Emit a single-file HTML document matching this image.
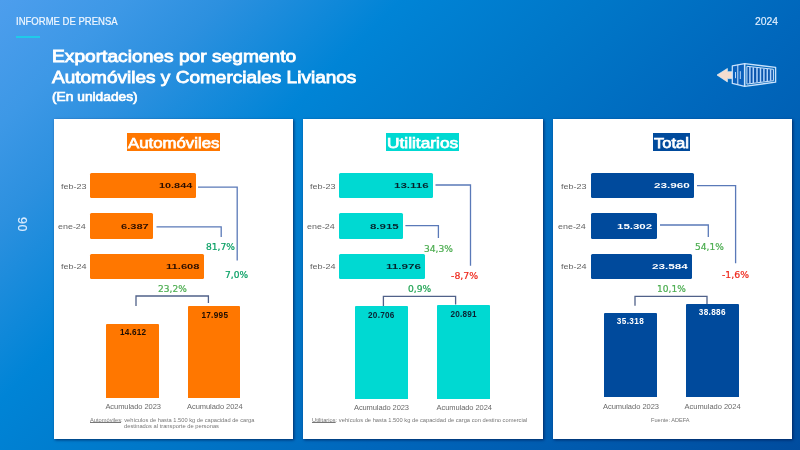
<!DOCTYPE html><html lang="es"><head><meta charset="utf-8"><title>Exportaciones por segmento</title><style>
html,body{margin:0;padding:0}
body{width:800px;height:450px;overflow:hidden;position:relative;font-family:"Liberation Sans",sans-serif;
background:linear-gradient(135deg,#4d9eed 0%,#3d98e6 10%,#2c90df 18%,#0084d6 32%,#0077c8 48%,#0067bc 65%,#005aae 82%,#004c9e 100%)}
.panel{position:absolute;top:118.5px;width:239.7px;height:320px;background:#fff;box-shadow:1.4px 1.4px 2.6px rgba(0,20,70,.72)}
.r{position:absolute}
.ov{position:absolute;left:0;top:0}
.t u{text-decoration-thickness:0.5px;text-underline-offset:0.4px}
.t{position:absolute;white-space:nowrap;line-height:1;margin:0;transform-origin:0 0}
.rule{position:absolute;left:16px;top:35.6px;width:24px;height:2px;background:#1fcbe9}
.pg{position:absolute;left:23.1px;top:224.1px;width:0;height:0}
.pg span{position:absolute;white-space:nowrap;line-height:1;font-size:12.6px;letter-spacing:0.4px;color:#dcedff;-webkit-text-stroke:0.2px #dcedff;transform:translate(-50%,-50%) rotate(-90deg);display:block}
</style></head><body>
<header>
<div class="t" style="left:16.0px;top:17px;font-size:10.1px;color:#f0f7ff;transform:scaleX(0.9435);-webkit-text-stroke:0.2px #f0f7ff;">INFORME DE PRENSA</div>
<div class="t" style="left:754.7px;top:17px;font-size:10.3px;color:#e2f0ff;transform:scaleX(1.0078);-webkit-text-stroke:0.15px #e2f0ff;">2024</div>
<div class="rule"></div>
<svg class="ov" width="800" height="450" viewBox="0 0 800 450" fill="none" stroke-linejoin="round">
<path d="M717 75 L727.4 68.5 V71.7 H732.2 V78.6 H727.4 V81.9 Z" fill="#f3dccf" stroke="#e3ecf6" stroke-width="0.7"/>
<path d="M732.3 65.9 L744.6 63.7 V86.3 L732.3 83.4 Z" fill="#0a60bc" stroke="#cae2fc" stroke-width="1.25"/>
<path d="M737.8 64.9 V84.7" stroke="#cfe5fc" stroke-width="1"/>
<path d="M735.5 72 V78.2 M740.3 71.2 V79" stroke="#b5d6f8" stroke-width="1"/>
<path d="M744.6 63.7 L775.6 67.4 V82.2 L744.6 86.3 Z" stroke="#cae2fc" stroke-width="1.35"/>
<path d="M746.9 66.3 L773.4 69.3 V80.7 L746.9 84.1 Z" fill="#0a54ad" stroke="#cfe5fc" stroke-width="1"/>
<path d="M749.9 66.9 V83.4 M753.3 67.3 V83.0 M757.0 67.7 V82.5 M760.5 68.1 V82.1 M763.9 68.5 V81.6 M767.3 68.9 V81.2 M770.6 69.3 V80.8" stroke="#b2d5fc" stroke-width="1.5"/>
</svg>
</header>
<aside class="pg"><span>06</span></aside>
<div class="title">
<div class="t" style="left:51.8px;top:49px;font-size:15.9px;color:#ffffff;transform:scaleX(1.2072);-webkit-text-stroke:0.8px #fff;">Exportaciones por segmento</div>
<div class="t" style="left:51.8px;top:70px;font-size:15.9px;color:#ffffff;transform:scaleX(1.1967);-webkit-text-stroke:0.8px #fff;">Automóviles y Comerciales Livianos</div>
<div class="t" style="left:51.8px;top:91px;font-size:12.4px;color:#ffffff;transform:scaleX(1.1107);-webkit-text-stroke:0.65px #fff;">(En unidades)</div>
</div>
<main>
<section>
<div class="panel" style="left:53.5px"></div>
<div class="r" style="left:126.8px;top:132.6px;width:93.4px;height:18.1px;background:#ff7700"></div>
<div class="r" style="left:90.1px;top:172.6px;width:106.0px;height:25.6px;background:#ff7700;border-radius:1.5px"></div>
<div class="r" style="left:90.1px;top:213.1px;width:63.0px;height:25.7px;background:#ff7700;border-radius:1.5px"></div>
<div class="r" style="left:90.1px;top:253.8px;width:113.9px;height:25.5px;background:#ff7700;border-radius:1.5px"></div>
<svg class="ov" width="800" height="450" viewBox="0 0 800 450" fill="none" stroke-width="1.3"><path d="M198 187.1 H237.2 V260.6" stroke="#5a79b8"/><path d="M156.5 226.8 H221.2 V237" stroke="#5a79b8"/><path d="M136 306 V296 H208.4 V303" stroke="#506189"/></svg>
<div class="r" style="left:106.4px;top:324px;width:53.0px;height:73.5px;background:#ff7700;border-radius:1px 1px 0 0"></div>
<div class="r" style="left:188px;top:306px;width:52.4px;height:91.5px;background:#ff7700;border-radius:1px 1px 0 0"></div>
<div class="t" style="left:128.0px;top:135px;font-size:15.2px;color:#ffffff;transform:scaleX(1.1047);-webkit-text-stroke:0.75px #fff;">Automóviles</div>
<div class="t" style="left:158.9px;top:182px;font-size:8.0px;color:#2a0e00;font-weight:700;transform:scaleX(1.3568);">10.844</div>
<div class="t" style="left:60.5px;top:183px;font-size:7.7px;color:#636363;transform:scaleX(1.1736);">feb-23</div>
<div class="t" style="left:120.8px;top:223px;font-size:8.0px;color:#2a0e00;font-weight:700;transform:scaleX(1.3828);">6.387</div>
<div class="t" style="left:58.3px;top:223px;font-size:7.7px;color:#636363;transform:scaleX(1.1614);">ene-24</div>
<div class="t" style="left:166.2px;top:263px;font-size:8.0px;color:#2a0e00;font-weight:700;transform:scaleX(1.3940);">11.608</div>
<div class="t" style="left:60.5px;top:263px;font-size:7.7px;color:#636363;transform:scaleX(1.1736);">feb-24</div>
<div class="t" style="left:206.0px;top:243px;font-size:9.1px;color:#0aa065;font-family:'DejaVu Sans', 'Liberation Sans', sans-serif;transform:scaleX(1.0038);-webkit-text-stroke:0.22px #0aa065;">81,7%</div>
<div class="t" style="left:225.0px;top:271px;font-size:9.1px;color:#0aa065;font-family:'DejaVu Sans', 'Liberation Sans', sans-serif;transform:scaleX(0.9953);-webkit-text-stroke:0.22px #0aa065;">7,0%</div>
<div class="t" style="left:157.6px;top:285px;font-size:9.1px;color:#4cad50;font-family:'DejaVu Sans', 'Liberation Sans', sans-serif;transform:scaleX(0.9969);-webkit-text-stroke:0.22px #4cad50;">23,2%</div>
<div class="t" style="left:120.0px;top:329px;font-size:8.2px;color:#1e0d02;font-weight:700;letter-spacing:0.191px;">14.612</div>
<div class="t" style="left:201.4px;top:312px;font-size:8.2px;color:#1e0d02;font-weight:700;letter-spacing:0.311px;">17.995</div>
<div class="t" style="left:105.4px;top:403px;font-size:7.5px;color:#6a6a6a;letter-spacing:-0.054px;">Acumulado 2023</div>
<div class="t" style="left:187.0px;top:403px;font-size:7.5px;color:#6a6a6a;letter-spacing:-0.054px;">Acumulado 2024</div>
<div class="t" style="left:89.6px;top:418px;font-size:5.6px;color:#777777;transform:scaleX(1.0185);"><u>Automóviles</u>: vehículos de hasta 1.500 kg de capacidad de carga</div>
<div class="t" style="left:124.0px;top:424px;font-size:5.6px;color:#777777;transform:scaleX(1.0321);">destinados al transporte de personas</div>
</section>
<section>
<div class="panel" style="left:303px"></div>
<div class="r" style="left:386.1px;top:132.6px;width:73.2px;height:18.1px;background:#00d9d2"></div>
<div class="r" style="left:339.4px;top:172.6px;width:93.6px;height:25.6px;background:#00d9d2;border-radius:1.5px"></div>
<div class="r" style="left:339.4px;top:213.1px;width:63.6px;height:25.7px;background:#00d9d2;border-radius:1.5px"></div>
<div class="r" style="left:339.4px;top:253.8px;width:85.7px;height:25.5px;background:#00d9d2;border-radius:1.5px"></div>
<svg class="ov" width="800" height="450" viewBox="0 0 800 450" fill="none" stroke-width="1.3"><path d="M435.5 185 H470.5 V265.8" stroke="#5a79b8"/><path d="M405.4 225.6 H438.4 V238" stroke="#5a79b8"/><path d="M383.4 306 V296.4 H455.6 V304.5" stroke="#506189"/></svg>
<div class="r" style="left:354.6px;top:306px;width:53.4px;height:92.5px;background:#00d9d2;border-radius:1px 1px 0 0"></div>
<div class="r" style="left:437.4px;top:305px;width:53.0px;height:93.5px;background:#00d9d2;border-radius:1px 1px 0 0"></div>
<div class="t" style="left:387.3px;top:135px;font-size:15.2px;color:#ffffff;transform:scaleX(1.1401);-webkit-text-stroke:0.75px #fff;">Utilitarios</div>
<div class="t" style="left:393.6px;top:182px;font-size:8.0px;color:#06222b;font-weight:700;transform:scaleX(1.4440);">13.116</div>
<div class="t" style="left:309.6px;top:183px;font-size:7.7px;color:#636363;transform:scaleX(1.1736);">feb-23</div>
<div class="t" style="left:369.6px;top:223px;font-size:8.0px;color:#06222b;font-weight:700;transform:scaleX(1.4328);">8.915</div>
<div class="t" style="left:307.4px;top:223px;font-size:7.7px;color:#636363;transform:scaleX(1.1614);">ene-24</div>
<div class="t" style="left:385.6px;top:263px;font-size:8.0px;color:#06222b;font-weight:700;transform:scaleX(1.4523);">11.976</div>
<div class="t" style="left:309.6px;top:263px;font-size:7.7px;color:#636363;transform:scaleX(1.1736);">feb-24</div>
<div class="t" style="left:423.7px;top:245px;font-size:9.1px;color:#4cad50;font-family:'DejaVu Sans', 'Liberation Sans', sans-serif;transform:scaleX(1.0038);-webkit-text-stroke:0.22px #4cad50;">34,3%</div>
<div class="t" style="left:450.8px;top:272px;font-size:9.1px;color:#ee2a1e;font-family:'DejaVu Sans', 'Liberation Sans', sans-serif;transform:scaleX(1.0307);-webkit-text-stroke:0.22px #ee2a1e;">-8,7%</div>
<div class="t" style="left:408.0px;top:285px;font-size:9.1px;color:#22a455;font-family:'DejaVu Sans', 'Liberation Sans', sans-serif;transform:scaleX(1.0039);-webkit-text-stroke:0.22px #22a455;">0,9%</div>
<div class="t" style="left:368.0px;top:312px;font-size:8.2px;color:#0a2233;font-weight:700;letter-spacing:0.271px;">20.706</div>
<div class="t" style="left:450.6px;top:311px;font-size:8.2px;color:#0a2233;font-weight:700;letter-spacing:0.191px;">20.891</div>
<div class="t" style="left:354.0px;top:404px;font-size:7.5px;color:#6a6a6a;letter-spacing:-0.100px;">Acumulado 2023</div>
<div class="t" style="left:436.5px;top:404px;font-size:7.5px;color:#6a6a6a;letter-spacing:-0.061px;">Acumulado 2024</div>
<div class="t" style="left:312.3px;top:418px;font-size:5.6px;color:#777777;transform:scaleX(1.0267);"><u>Utilitarios</u>: vehículos de hasta 1.500 kg de capacidad de carga con destino comercial</div>
</section>
<section>
<div class="panel" style="left:552.8px"></div>
<div class="r" style="left:653.0px;top:132.6px;width:37.0px;height:18.1px;background:#004a9c"></div>
<div class="r" style="left:591px;top:172.6px;width:102.6px;height:25.6px;background:#004a9c;border-radius:1.5px"></div>
<div class="r" style="left:591px;top:213.1px;width:66.0px;height:25.7px;background:#004a9c;border-radius:1.5px"></div>
<div class="r" style="left:591px;top:253.8px;width:100.8px;height:25.5px;background:#004a9c;border-radius:1.5px"></div>
<svg class="ov" width="800" height="450" viewBox="0 0 800 450" fill="none" stroke-width="1.3"><path d="M697 185.6 H735.6 V263.3" stroke="#5a79b8"/><path d="M660 225 H708.3 V237" stroke="#5a79b8"/><path d="M635 305.8 V296.3 H707 V304.3" stroke="#506189"/></svg>
<div class="r" style="left:603.8px;top:313px;width:53.0px;height:84.0px;background:#004a9c;border-radius:1px 1px 0 0"></div>
<div class="r" style="left:686.3px;top:304.3px;width:52.5px;height:92.7px;background:#004a9c;border-radius:1px 1px 0 0"></div>
<div class="t" style="left:654.2px;top:135px;font-size:15.2px;color:#ffffff;transform:scaleX(1.0906);-webkit-text-stroke:0.75px #fff;">Total</div>
<div class="t" style="left:653.6px;top:182px;font-size:8.0px;color:#ffffff;font-weight:700;transform:scaleX(1.4590);">23.960</div>
<div class="t" style="left:560.6px;top:183px;font-size:7.7px;color:#636363;transform:scaleX(1.1736);">feb-23</div>
<div class="t" style="left:617.2px;top:223px;font-size:8.0px;color:#ffffff;font-weight:700;transform:scaleX(1.4345);">15.302</div>
<div class="t" style="left:558.4px;top:223px;font-size:7.7px;color:#636363;transform:scaleX(1.1614);">ene-24</div>
<div class="t" style="left:652.1px;top:263px;font-size:8.0px;color:#ffffff;font-weight:700;transform:scaleX(1.4590);">23.584</div>
<div class="t" style="left:560.6px;top:263px;font-size:7.7px;color:#636363;transform:scaleX(1.1736);">feb-24</div>
<div class="t" style="left:694.5px;top:243px;font-size:9.1px;color:#4cad50;font-family:'DejaVu Sans', 'Liberation Sans', sans-serif;transform:scaleX(0.9969);-webkit-text-stroke:0.22px #4cad50;">54,1%</div>
<div class="t" style="left:721.8px;top:271px;font-size:9.1px;color:#ee2a1e;font-family:'DejaVu Sans', 'Liberation Sans', sans-serif;transform:scaleX(1.0231);-webkit-text-stroke:0.22px #ee2a1e;">-1,6%</div>
<div class="t" style="left:657.0px;top:285px;font-size:9.1px;color:#4cad50;font-family:'DejaVu Sans', 'Liberation Sans', sans-serif;transform:scaleX(0.9969);-webkit-text-stroke:0.22px #4cad50;">10,1%</div>
<div class="t" style="left:616.8px;top:318px;font-size:8.2px;color:#ffffff;font-weight:700;letter-spacing:0.391px;">35.318</div>
<div class="t" style="left:698.8px;top:309px;font-size:8.2px;color:#ffffff;font-weight:700;letter-spacing:0.331px;">38.886</div>
<div class="t" style="left:603.0px;top:403px;font-size:7.5px;color:#6a6a6a;letter-spacing:-0.023px;">Acumulado 2023</div>
<div class="t" style="left:684.5px;top:403px;font-size:7.5px;color:#6a6a6a;letter-spacing:-0.015px;">Acumulado 2024</div>
<div class="t" style="left:651.0px;top:418px;font-size:5.6px;color:#777777;">Fuente: ADEFA</div>
</section>
</main>
</body></html>
